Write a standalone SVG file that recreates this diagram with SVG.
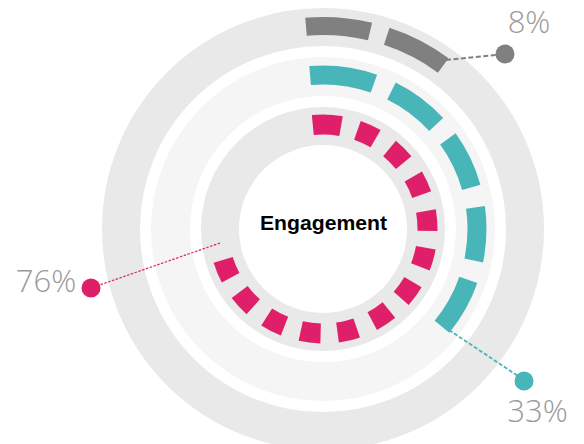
<svg xmlns="http://www.w3.org/2000/svg" width="584" height="444" viewBox="0 0 584 444">
  <style>
    .track { fill: none; }
    .track-dark { stroke: #e9e9e9; }
    .track-light { stroke: #f5f5f5; }
    .seg { fill: none; stroke-linecap: butt; }
    .gray { stroke: #808080; }
    .teal { stroke: #48b5b9; }
    .pink { stroke: #e01f6b; }
    .lbl { font-family: "Open Sans", "Lato", "Liberation Sans", sans-serif; font-weight: 300; font-size: 31px; fill: #9a9a9a; text-anchor: middle; }
    .title { font-family: "Liberation Sans", "DejaVu Sans", sans-serif; font-weight: bold; font-size: 20.5px; fill: #000000; text-anchor: middle; }
    .conn { fill: none; }
  </style>
  <rect x="0" y="0" width="584" height="444" fill="#ffffff"/>

  <g id="tracks">
    <circle class="track track-dark" cx="323" cy="229" r="202" stroke-width="38"/>
    <circle class="track track-light" cx="323" cy="229" r="152.5" stroke-width="39"/>
    <circle class="track track-dark" cx="323" cy="229" r="103" stroke-width="38"/>
  </g>

  <g id="ring-gray">
    <path class="seg gray" stroke-width="18" d="M306.01,26.71 A203,203 0 0 1 370.04,31.53"/>
    <path class="seg gray" stroke-width="18" d="M386.74,36.27 A203,203 0 0 1 443.18,65.40"/>
  </g>

  <g id="ring-teal">
    <path class="seg teal" stroke-width="19" d="M310.11,75.54 A154,154 0 0 1 373.90,83.65"/>
    <path class="seg teal" stroke-width="19" d="M391.47,91.06 A154,154 0 0 1 436.15,124.53"/>
    <path class="seg teal" stroke-width="19" d="M447.90,138.92 A154,154 0 0 1 471.25,187.33"/>
    <path class="seg teal" stroke-width="19" d="M475.46,207.30 A154,154 0 0 1 473.75,260.49"/>
    <path class="seg teal" stroke-width="19" d="M468.35,279.90 A154,154 0 0 1 442.00,326.75"/>
  </g>

  <g id="ring-pink">
    <path class="seg pink" stroke-width="20" stroke-dasharray="28.4 16.9 20 16.9 20 16.9 20 16.9 20 16.9 20 16.9 20 16.9 20 16.9 20 16.9 20 16.9 20 16.9 20 16.9 20 16.9" d="M312.80,125.00 A104.5,104.5 0 1 1 223.17,259.90"/>
  </g>

  <g id="center-label">
    <text class="title" x="323.5" y="230" textLength="127" lengthAdjust="spacingAndGlyphs">Engagement</text>
  </g>

  <g id="connectors">
    <line class="conn" x1="446" y1="60" x2="505" y2="54" stroke="#808080" stroke-width="2" stroke-dasharray="5 2.5"/>
    <line class="conn" x1="449" y1="330" x2="524" y2="380" stroke="#48b5b9" stroke-width="1.8" stroke-dasharray="4 2"/>
    <line class="conn" x1="220" y1="243" x2="91" y2="288" stroke="#e01f6b" stroke-width="1.2" stroke-dasharray="2.5 1.5"/>
  </g>

  <g id="label-8">
    <circle cx="505" cy="54" r="9.5" fill="#808080"/>
    <text class="lbl" x="529" y="33">8%</text>
  </g>
  <g id="label-33">
    <circle cx="524" cy="381" r="9.5" fill="#48b5b9"/>
    <text class="lbl" x="537.5" y="422">33%</text>
  </g>
  <g id="label-76">
    <circle cx="91" cy="288" r="9.5" fill="#e01f6b"/>
    <text class="lbl" x="46" y="292">76%</text>
  </g>
</svg>
